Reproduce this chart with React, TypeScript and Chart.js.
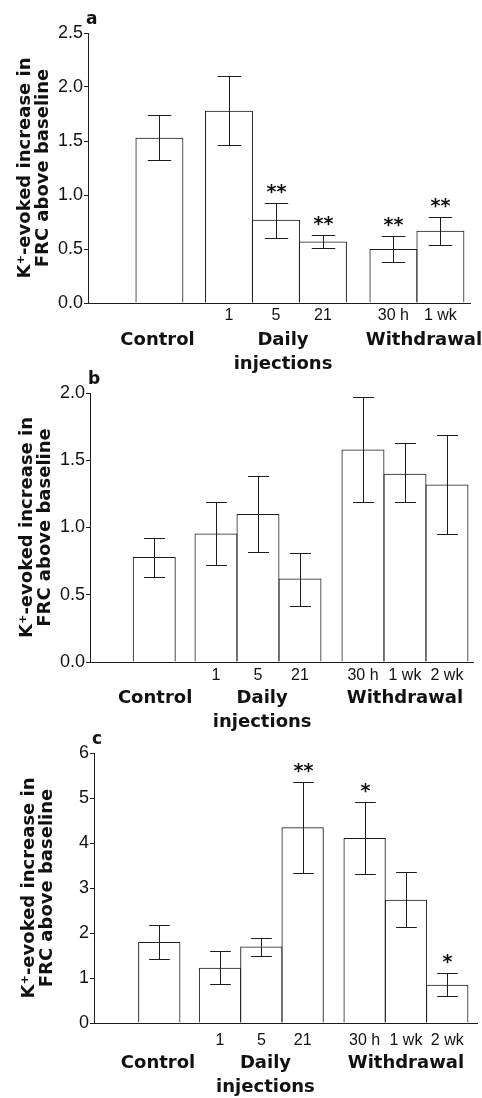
import React, { useEffect, useRef } from "react";
import { Chart, registerables } from "chart.js";
Chart.register(...registerables);

// ---------- data ----------
const categoriesA = ["Control", "1", "5", "21", "30 h", "1 wk"];
const categoriesBC = ["Control", "1", "5", "21", "30 h", "1 wk", "2 wk"];
const slotsA = [1.52, 3, 4, 5, 6.5, 7.5];
const slotsBC = [1.53, 3, 4, 5, 6.5, 7.5, 8.5];
const groupNames = [["Control"], ["Daily", "injections"], ["Withdrawal"]];
const groupSlotsA = [1.48, 4.15, 7.15];
const groupSlotsB = [1.55, 4.1, 7.5];
const groupSlotsC = [1.5, 4.1, 7.5];
const yTitle = ["K\u207A-evoked increase in", "FRC above baseline"];

// panel a
const meanA = [1.53, 1.78, 0.77, 0.57, 0.5, 0.67];
const highA = [1.74, 2.1, 0.93, 0.63, 0.62, 0.8];
const lowA = [1.32, 1.46, 0.6, 0.51, 0.38, 0.54];
const sigA = ["", "", "**", "**", "**", "**"];

// panel b
const meanB = [0.78, 0.955, 1.1, 0.62, 1.58, 1.4, 1.32];
const highB = [0.92, 1.19, 1.38, 0.81, 1.97, 1.63, 1.69];
const lowB = [0.63, 0.72, 0.82, 0.42, 1.19, 1.19, 0.95];
const sigB = ["", "", "", "", "", "", ""];

// panel c
const meanC = [1.8, 1.23, 1.7, 4.35, 4.11, 2.74, 0.85];
const highC = [2.18, 1.6, 1.88, 5.36, 4.92, 3.35, 1.11];
const lowC = [1.42, 0.86, 1.5, 3.34, 3.32, 2.13, 0.59];
const sigC = ["", "", "", "**", "*", "", "*"];

// ---------- style / layout ----------
const INK = "#1c1c1c";
const TEXT = "#111";
const SANS = "'Liberation Sans', Arial, sans-serif";
const WIDE = "'DejaVu Sans', sans-serif";
const X_AXIS_H = 24;
const CANVAS_W = 482;

type PanelDef = {
  letter: string;
  cats: string[];
  slots: number[];
  mean: number[];
  high: number[];
  low: number[];
  sig: string[];
  groupSlots: number[];
  yMax: number;
  yStep: number;
  yDec: number;
  xMin: number;
  xMax: number;
  canvasTop: number;
  canvasH: number;
  top: number;
  bottom: number;
  left: number;
  right: number;
  titlePad: number;
  tickPad: number;
  groupDy: number[];
};

const panels: PanelDef[] = [
  {
    letter: "a", cats: categoriesA, slots: slotsA, mean: meanA, high: highA, low: lowA, sig: sigA,
    groupSlots: groupSlotsA, yMax: 2.5, yStep: 0.5, yDec: 1, xMin: 0, xMax: 8.13,
    canvasTop: 0, canvasH: 380, top: 33, bottom: 303, left: 88, right: 470,
    titlePad: 16, tickPad: 3, groupDy: [37, 61],
  },
  {
    letter: "b", cats: categoriesBC, slots: slotsBC, mean: meanB, high: highB, low: lowB, sig: sigB,
    groupSlots: groupSlotsB, yMax: 2.0, yStep: 0.5, yDec: 1, xMin: 0, xMax: 9.12,
    canvasTop: 360, canvasH: 380, top: 393, bottom: 662, left: 90, right: 473,
    titlePad: 18, tickPad: 4, groupDy: [36, 60],
  },
  {
    letter: "c", cats: categoriesBC, slots: slotsBC, mean: meanC, high: highC, low: lowC, sig: sigC,
    groupSlots: groupSlotsC, yMax: 6, yStep: 1, yDec: 0, xMin: -0.05, xMax: 9.22,
    canvasTop: 725, canvasH: 373, top: 753, bottom: 1023, left: 94, right: 477,
    titlePad: 20, tickPad: 8, groupDy: [40, 64],
  },
];

function makeDecor(p: PanelDef) {
  return {
    id: "decor_" + p.letter,
    afterDatasetsDraw(chart: any) {
      const ctx = chart.ctx;
      const ys = chart.scales.y;
      const meta = chart.getDatasetMeta(0);
      ctx.save();
      ctx.strokeStyle = INK;
      ctx.lineWidth = 1;
      meta.data.forEach((bar: any, i: number) => {
        const x = Math.round(bar.x) + 0.5;
        const half = (bar.width - 1) * 0.25;
        const yh = Math.round(ys.getPixelForValue(p.high[i])) + 0.5;
        const yl = Math.round(ys.getPixelForValue(p.low[i])) + 0.5;
        ctx.beginPath();
        ctx.moveTo(x, yl);
        ctx.lineTo(x, yh);
        ctx.moveTo(x - half, yh);
        ctx.lineTo(x + half, yh);
        ctx.moveTo(x - half, yl);
        ctx.lineTo(x + half, yl);
        ctx.stroke();
        const s = p.sig[i];
        if (s) {
          ctx.fillStyle = TEXT;
          ctx.font = "bold 19px " + WIDE;
          ctx.textAlign = "center";
          ctx.textBaseline = "middle";
          const n = s.length;
          for (let k = 0; k < n; k++) {
            ctx.fillText("*", x + (k - (n - 1) / 2) * 10, yh - 10);
          }
        }
      });
      ctx.restore();
    },
    afterDraw(chart: any) {
      const ctx = chart.ctx;
      const xs = chart.scales.x;
      const area = chart.chartArea;
      ctx.save();
      ctx.fillStyle = TEXT;
      ctx.font = "bold 18px " + WIDE;
      ctx.textAlign = "center";
      ctx.textBaseline = "middle";
      groupNames.forEach((lines, g) => {
        const gx = xs.getPixelForValue(p.groupSlots[g]);
        lines.forEach((line, li) => {
          ctx.fillText(line, gx, area.bottom + p.groupDy[li]);
        });
      });
      ctx.font = "bold 17px " + WIDE;
      ctx.textAlign = "left";
      ctx.textBaseline = "alphabetic";
      ctx.fillText(p.letter, area.left - 2, area.top - 9);
      ctx.restore();
    },
  };
}

function PanelChart({ p }: { p: PanelDef }) {
  const ref = useRef<HTMLCanvasElement | null>(null);
  useEffect(() => {
    if (!ref.current) return;
    const tickVals = p.slots.slice(1);
    const tickLabels = p.cats.slice(1);
    // one unit on the x scale in pixels; bars widened by 1px so neighbours share one outline
    const unitPx = (p.right - p.left) / (p.xMax - p.xMin);
    const chart = new Chart(ref.current, {
      type: "bar",
      data: {
        datasets: [
          {
            data: p.slots.map((x, i) => ({ x, y: p.mean[i] })),
            backgroundColor: "rgba(255,255,255,0)",
            borderColor: INK,
            borderSkipped: false,
            borderWidth: { top: 1, left: 1, right: 1, bottom: 0 },
            barPercentage: (unitPx + 1) / unitPx,
            categoryPercentage: 1,
          } as any,
        ],
      },
      options: {
        responsive: false,
        animation: false,
        devicePixelRatio: 1,
        layout: {
          padding: {
            left: 0,
            right: CANVAS_W - p.right,
            top: p.top - p.canvasTop,
            bottom: p.canvasH - (p.bottom - p.canvasTop) - X_AXIS_H,
          },
        },
        plugins: {
          legend: { display: false },
          tooltip: { enabled: false },
        },
        scales: {
          x: {
            type: "linear",
            offset: false,
            min: p.xMin,
            max: p.xMax,
            grid: { display: true, offset: false, drawOnChartArea: false, drawTicks: false, color: "rgba(0,0,0,0)" },
            border: { display: true, color: INK, width: 1 },
            ticks: {
              autoSkip: false,
              maxRotation: 0,
              minRotation: 0,
              padding: p.tickPad,
              color: TEXT,
              font: { family: SANS, size: 16 },
              callback: (_v: any, i: number) => tickLabels[i],
            },
            afterBuildTicks: (s: any) => {
              s.ticks = tickVals.map((v) => ({ value: v }));
            },
            afterFit: (s: any) => {
              s.height = X_AXIS_H;
            },
          },
          y: {
            min: 0,
            max: p.yMax,
            ticks: {
              stepSize: p.yStep,
              padding: 1,
              color: TEXT,
              font: { family: SANS, size: 18 },
              callback: (v: any) => Number(v).toFixed(p.yDec),
            },
            grid: { drawOnChartArea: false, drawTicks: true, tickLength: 4, color: INK, lineWidth: 1 },
            border: { display: true, color: INK, width: 1 },
            title: {
              display: true,
              text: yTitle,
              color: TEXT,
              font: { family: WIDE, weight: "bold", size: 18, lineHeight: 1 },
              padding: { top: p.titlePad, bottom: 0 },
            },
            afterFit: (s: any) => {
              s.width = p.left;
            },
          },
        },
      } as any,
      plugins: [makeDecor(p)],
    });
    return () => chart.destroy();
  }, [p]);
  return (
    <canvas
      ref={ref}
      width={CANVAS_W}
      height={p.canvasH}
      style={{ position: "absolute", left: 0, top: p.canvasTop, width: CANVAS_W, height: p.canvasH }}
    />
  );
}

export default function App() {
  return (
    <div style={{ position: "absolute", left: 0, top: 0, width: CANVAS_W, height: 1098, background: "#fff" }}>
      {panels.map((p) => (
        <PanelChart key={p.letter} p={p} />
      ))}
    </div>
  );
}
